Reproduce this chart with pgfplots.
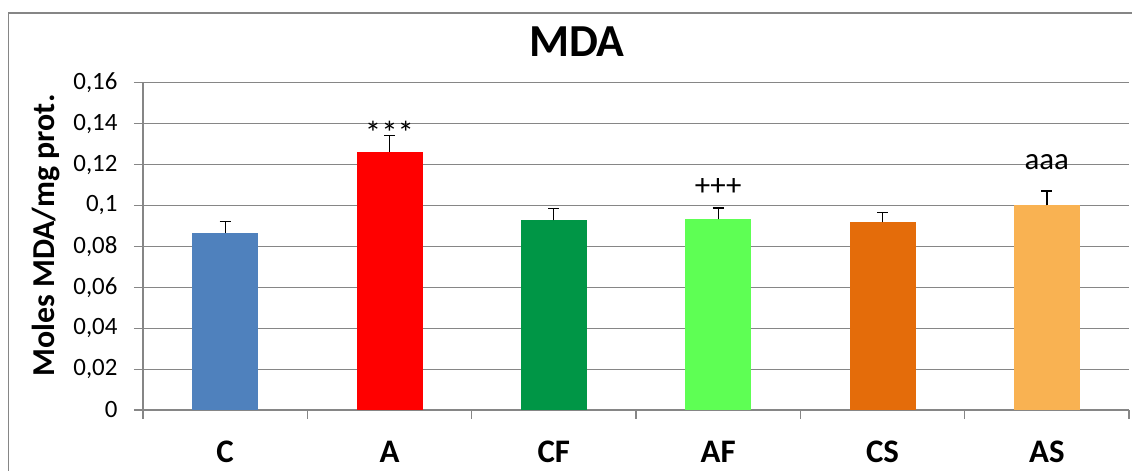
\documentclass[border=0pt]{standalone}
\usepackage{fontspec}
\setmainfont{Carlito}
\usepackage{pgfplots}
\pgfplotsset{compat=1.18}
\definecolor{gridgray}{RGB}{134,134,134}
\definecolor{cC}{RGB}{79,129,189}
\definecolor{cA}{RGB}{255,0,0}
\definecolor{cCF}{RGB}{0,150,70}
\definecolor{cAF}{RGB}{94,255,84}
\definecolor{cCS}{RGB}{228,108,10}
\definecolor{cAS}{RGB}{249,178,82}
\begin{document}
\begin{tikzpicture}[x=1bp,y=1bp]
\path[use as bounding box] (0,0) rectangle (1132,471);
\begin{scope}
\clip (0,0) rectangle (1132,471);
\draw[gridgray, line width=1.3bp] (8.5,-10) rectangle (1150,458);
\end{scope}
\begin{axis}[
  at={(143bp,61bp)}, anchor=south west,
  width=986bp, height=327.3bp, scale only axis,
  xmin=-0.5, xmax=5.5, ymin=0, ymax=0.16,
  axis lines*=left,
  axis line style={gridgray, line width=1.1bp},
  ytick={0,0.02,0.04,0.06,0.08,0.1,0.12,0.14,0.16},
  yticklabels={0,{0,02},{0,04},{0,06},{0,08},{0,1},{0,12},{0,14},{0,16}},
  ymajorgrids, grid style={gridgray, line width=1.1bp},
  yticklabel style={font=\fontsize{25}{30}\selectfont, xshift=-13bp},
  tick align=outside,
  major tick length=9bp,
  tick style={gridgray, line width=1.1bp},
  xtick={-0.5,0.5,1.5,2.5,3.5,4.5,5.5}, xticklabels={},
  extra x ticks={0,1,2,3,4,5},
  extra x tick labels={C,A,CF,AF,CS,AS},
  extra x tick style={major tick length=0pt, ticklabel style={font=\bfseries\fontsize{33}{38}\selectfont, anchor=base, yshift=-53bp}, grid=none},
  ylabel={Moles MDA/mg prot.},
  ylabel style={at={(axis description cs:-0.0984,0.533)}, anchor=center, rotate=0, font=\bfseries\fontsize{32}{38}\selectfont},
  title={MDA},
  title style={at={(axis description cs:0.44,1)}, anchor=base, yshift=20.7bp, font=\bfseries\fontsize{46}{52}\selectfont},
  ybar, bar width=66bp, bar shift=0pt,
  error bars/y dir=plus, error bars/y explicit,
  error bars/error bar style={black, line width=1.3bp},
  error bars/error mark options={rotate=90, mark size=5.5bp, line width=1.3bp, black},
  clip=false,
]
\addplot[fill=cC, draw=none] coordinates {(0,0.0867) +- (0,0.0055)};
\addplot[fill=cA, draw=none] coordinates {(1,0.1263) +- (0,0.0080)};
\addplot[fill=cCF, draw=none] coordinates {(2,0.0927) +- (0,0.0058)};
\addplot[fill=cAF, draw=none] coordinates {(3,0.0932) +- (0,0.0055)};
\addplot[fill=cCS, draw=none] coordinates {(4,0.0917) +- (0,0.0047)};
\addplot[fill=cAS, draw=none] coordinates {(5,0.1000) +- (0,0.0070)};
\node[font=\fontsize{33}{38}\selectfont] at (axis cs:1,0.1355) {***};
\node[font=\fontsize{31}{36}\selectfont] at (axis cs:3,0.1088) {+++};
\node[font=\fontsize{31}{36}\selectfont] at (axis cs:5,0.121) {aaa};
\end{axis}
\end{tikzpicture}
\end{document}
